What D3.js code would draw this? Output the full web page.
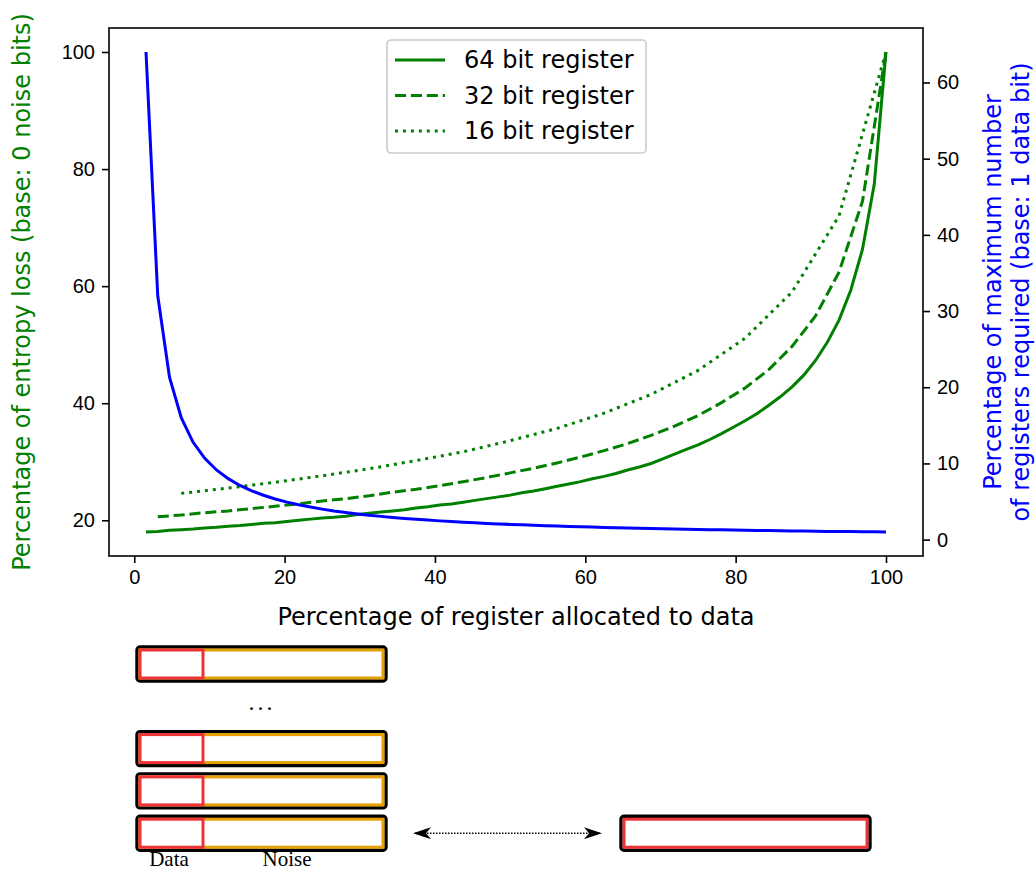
<!DOCTYPE html>
<html>
<head>
<meta charset="utf-8">
<script src="https://cdn.jsdelivr.net/npm/d3@7"></script>
<style>
    body { margin: 0; background: #fff; }
    svg { font-family: "DejaVu Sans", sans-serif; }
    .axis path, .axis line { stroke: #000; stroke-width: 1.6px; }
    .axis text { font-size: 20px; fill: #000; }
</style>
</head>
<body>
<div id="chart"></div>
<script>

// entropy loss (%) for each number of data bits
var loss64 = [18.0, 18.1, 18.3, 18.4, 18.5, 18.7, 18.8, 19.0, 19.1, 19.3,
    19.5, 19.6, 19.8, 20.0, 20.2, 20.4, 20.5, 20.7, 21.0, 21.2,
    21.4, 21.6, 21.8, 22.1, 22.3, 22.6, 22.8, 23.1, 23.4, 23.7,
    24.0, 24.3, 24.7, 25.0, 25.4, 25.8, 26.2, 26.6, 27.1, 27.5,
    28.0, 28.6, 29.1, 29.7, 30.5, 31.3, 32.1, 32.9, 33.8, 34.8,
    35.9, 37.0, 38.2, 39.6, 41.1, 42.8, 44.8, 47.3, 50.4, 54.2,
    59.3, 66.3, 77.4, 100];
var loss32 = [20.6, 20.9, 21.3, 21.6, 22.0, 22.4, 22.8, 23.3, 23.7, 24.2,
    24.8, 25.3, 25.9, 26.6, 27.3, 28.1, 28.9, 29.8, 30.8, 31.9,
    33.1, 34.5, 36.1, 37.9, 40.1, 42.6, 45.7, 49.7, 54.9, 62.4,
    74.5, 100];
var loss16 = [24.6, 25.5, 26.5, 27.6, 28.8, 30.2, 31.7, 33.6, 35.7, 38.3,
    41.5, 45.6, 51.1, 59.0, 72.0, 100];

// number of registers needed (64 bit register), per data bit count
var registers64 = [64, 32, 21.33, 16, 12.8, 10.67, 9.14, 8, 7.11, 6.4,
    5.82, 5.33, 4.92, 4.57, 4.27, 4, 3.76, 3.56, 3.37, 3.2,
    3.05, 2.91, 2.78, 2.67, 2.56, 2.46, 2.37, 2.29, 2.21, 2.13,
    2.06, 2, 1.94, 1.88, 1.83, 1.78, 1.73, 1.68, 1.64, 1.6,
    1.56, 1.52, 1.49, 1.45, 1.42, 1.39, 1.36, 1.33, 1.31, 1.28,
    1.25, 1.23, 1.21, 1.19, 1.16, 1.14, 1.12, 1.1, 1.08, 1.07,
    1.05, 1.03, 1.02, 1];

var seriesNames = ["64 bit register", "32 bit register", "16 bit register"];
var xTicks = [0, 20, 40, 60, 80, 100];
var leftTicks = [20, 40, 60, 80, 100];
var rightTicks = [0, 10, 20, 30, 40, 50, 60];

// bottom sketch
var sketchRows = ["reg", "dots", "reg", "reg", "reg"];
var sketchLabels = ["Data", "Noise"];

var width = 1035, height = 870;
var margin = {top: 28, right: 112, bottom: 314, left: 109};
var w = width - margin.left - margin.right,
    h = height - margin.top - margin.bottom;

var green = "#008000", blue = "#0000ff";

function toPoints(values, bits) {
    return values.map(function (v, i) {
        return {x: (i + 1) / bits * 100, y: v};
    });
}

var lines = [
    {name: seriesNames[0], pts: toPoints(loss64, 64), dash: null},
    {name: seriesNames[1], pts: toPoints(loss32, 32), dash: "11.1,4.8"},
    {name: seriesNames[2], pts: toPoints(loss16, 16), dash: "3,4.95"}
];
var bluePts = toPoints(registers64, 64);

var svg = d3.select("#chart").append("svg")
    .attr("width", width)
    .attr("height", height);

var g = svg.append("g")
    .attr("transform", "translate(" + margin.left + "," + margin.top + ")");

// matplotlib-like 5% padding
function padded(ext) {
    var p = (ext[1] - ext[0]) * 0.05;
    return [ext[0] - p, ext[1] + p];
}

var x = d3.scaleLinear()
    .domain(padded([1 / 64 * 100, 100]))
    .range([0, w]);

var allLoss = loss64.concat(loss32, loss16);
var yL = d3.scaleLinear()
    .domain(padded(d3.extent(allLoss)))
    .range([h, 0]);

var yR = d3.scaleLinear()
    .domain(padded(d3.extent(registers64)))
    .range([h, 0]);

var lineL = d3.line()
    .x(function (d) { return x(d.x); })
    .y(function (d) { return yL(d.y); });
var lineR = d3.line()
    .x(function (d) { return x(d.x); })
    .y(function (d) { return yR(d.y); });

g.selectAll(".loss")
    .data(lines)
    .enter()
    .append("path")
    .attr("class", "loss")
    .attr("d", function (d) { return lineL(d.pts); })
    .style("fill", "none")
    .style("stroke", green)
    .style("stroke-width", 3)
    .style("stroke-dasharray", function (d) { return d.dash; });

g.append("path")
    .attr("d", lineR(bluePts))
    .style("fill", "none")
    .style("stroke", blue)
    .style("stroke-width", 3);

// frame
g.append("rect")
    .attr("width", w)
    .attr("height", h)
    .style("fill", "none")
    .style("stroke", "#000")
    .style("stroke-width", 1.6);

g.append("g")
    .attr("class", "x axis")
    .attr("transform", "translate(0," + h + ")")
    .call(d3.axisBottom(x).tickValues(xTicks).tickSizeInner(7).tickSizeOuter(0).tickPadding(7));

g.append("g")
    .attr("class", "y axis")
    .call(d3.axisLeft(yL).tickValues(leftTicks).tickSizeInner(7).tickSizeOuter(0).tickPadding(7));

g.append("g")
    .attr("class", "y axis")
    .attr("transform", "translate(" + w + ",0)")
    .call(d3.axisRight(yR).tickValues(rightTicks).tickSizeInner(7).tickSizeOuter(0).tickPadding(7));

g.selectAll(".axis .domain").remove();

g.append("text")
    .attr("x", w / 2)
    .attr("y", h + 69)
    .style("font-size", "24px")
    .style("text-anchor", "middle")
    .text("Percentage of register allocated to data");

g.append("text")
    .attr("transform", "translate(" + (-79) + "," + (h / 2) + ") rotate(-90)")
    .style("font-size", "24px")
    .style("fill", green)
    .style("text-anchor", "middle")
    .text("Percentage of entropy loss (base: 0 noise bits)");

var rLabel = g.append("text")
    .attr("transform", "translate(" + (w + 78) + "," + (h / 2) + ") rotate(-90)")
    .style("font-size", "24px")
    .style("fill", blue)
    .style("text-anchor", "middle");
rLabel.append("tspan").attr("x", 0).attr("dy", 0).text("Percentage of maximum number");
rLabel.append("tspan").attr("x", 0).attr("dy", 28).text("of registers required (base: 1 data bit)");

// legend
var legend = g.append("g")
    .attr("transform", "translate(" + (387 - margin.left) + "," + (40 - margin.top) + ")");

legend.append("rect")
    .attr("width", 259)
    .attr("height", 113)
    .attr("rx", 4)
    .style("fill", "#fff")
    .style("fill-opacity", 0.8)
    .style("stroke", "#cccccc")
    .style("stroke-width", 1.6);

var item = legend.selectAll(".item")
    .data(lines)
    .enter()
    .append("g")
    .attr("class", "item")
    .attr("transform", function (d, i) { return "translate(0," + (20 + i * 35.5) + ")"; });

item.append("line")
    .attr("x1", 8).attr("x2", 58)
    .style("stroke", green)
    .style("stroke-width", 3)
    .style("stroke-dasharray", function (d) { return d.dash; });

item.append("text")
    .attr("x", 77)
    .attr("dy", "0.35em")
    .style("font-size", "24px")
    .text(function (d) { return d.name; });

// register sketch under the chart
var red = "#ee3338", orange = "#e6a000";
var regW = 249, regH = 34, dataW = 63;

var rowY = d3.scaleBand()
    .domain(d3.range(sketchRows.length))
    .range([647, 647 + 42.3 * sketchRows.length])
    .paddingInner(0);

var sk = svg.append("g");

function drawRegister(parent, x0, y0, wid, split) {
    parent.append("rect")
        .attr("x", x0).attr("y", y0)
        .attr("width", wid).attr("height", regH)
        .attr("rx", 3)
        .style("fill", "#fff")
        .style("stroke", "#000")
        .style("stroke-width", 3.4);
    if (split) {
        parent.append("rect")
            .attr("x", x0 + 3).attr("y", y0 + 3)
            .attr("width", wid - 6).attr("height", regH - 6)
            .style("fill", "#fff")
            .style("stroke", orange)
            .style("stroke-width", 3);
        parent.append("rect")
            .attr("x", x0 + 3).attr("y", y0 + 3)
            .attr("width", dataW).attr("height", regH - 6)
            .style("fill", "#fff")
            .style("stroke", red)
            .style("stroke-width", 3);
    } else {
        parent.append("rect")
            .attr("x", x0 + 3).attr("y", y0 + 3)
            .attr("width", wid - 6).attr("height", regH - 6)
            .style("fill", "#fff")
            .style("stroke", red)
            .style("stroke-width", 3);
    }
}

sketchRows.forEach(function (r, i) {
    var y0 = rowY(i);
    if (r == "reg") {
        drawRegister(sk, 137, y0, regW, true);
    } else {
        sk.append("text")
            .attr("x", 262)
            .attr("y", y0 + 21)
            .style("font-family", "'Liberation Serif', serif")
            .style("font-size", "24px")
            .style("letter-spacing", "3px")
            .style("text-anchor", "middle")
            .text("...");
    }
});

var lastY = rowY(sketchRows.length - 1);
drawRegister(sk, 621, lastY, 249, false);

sk.selectAll(".sklabel")
    .data(sketchLabels)
    .enter()
    .append("text")
    .attr("class", "sklabel")
    .attr("x", function (d, i) { return i == 0 ? 169 : 287; })
    .attr("y", lastY + 50)
    .style("font-family", "'Liberation Serif', serif")
    .style("font-size", "21px")
    .style("text-anchor", "middle")
    .text(function (d) { return d; });

// double arrow
var defs = svg.append("defs");
defs.append("marker")
    .attr("id", "head")
    .attr("viewBox", "0 0 18 12")
    .attr("refX", 16).attr("refY", 6)
    .attr("markerWidth", 18).attr("markerHeight", 12)
    .attr("markerUnits", "userSpaceOnUse")
    .attr("orient", "auto-start-reverse")
    .append("path")
    .attr("d", "M0,0 L18,6 L0,12 L5,6 Z")
    .style("fill", "#000");

sk.append("line")
    .attr("x1", 415).attr("x2", 600)
    .attr("y1", lastY + 17).attr("y2", lastY + 17)
    .style("stroke", "#000")
    .style("stroke-width", 1.5)
    .style("stroke-dasharray", "1.5,1.5")
    .attr("marker-start", "url(#head)")
    .attr("marker-end", "url(#head)");

</script>
</body>
</html>
